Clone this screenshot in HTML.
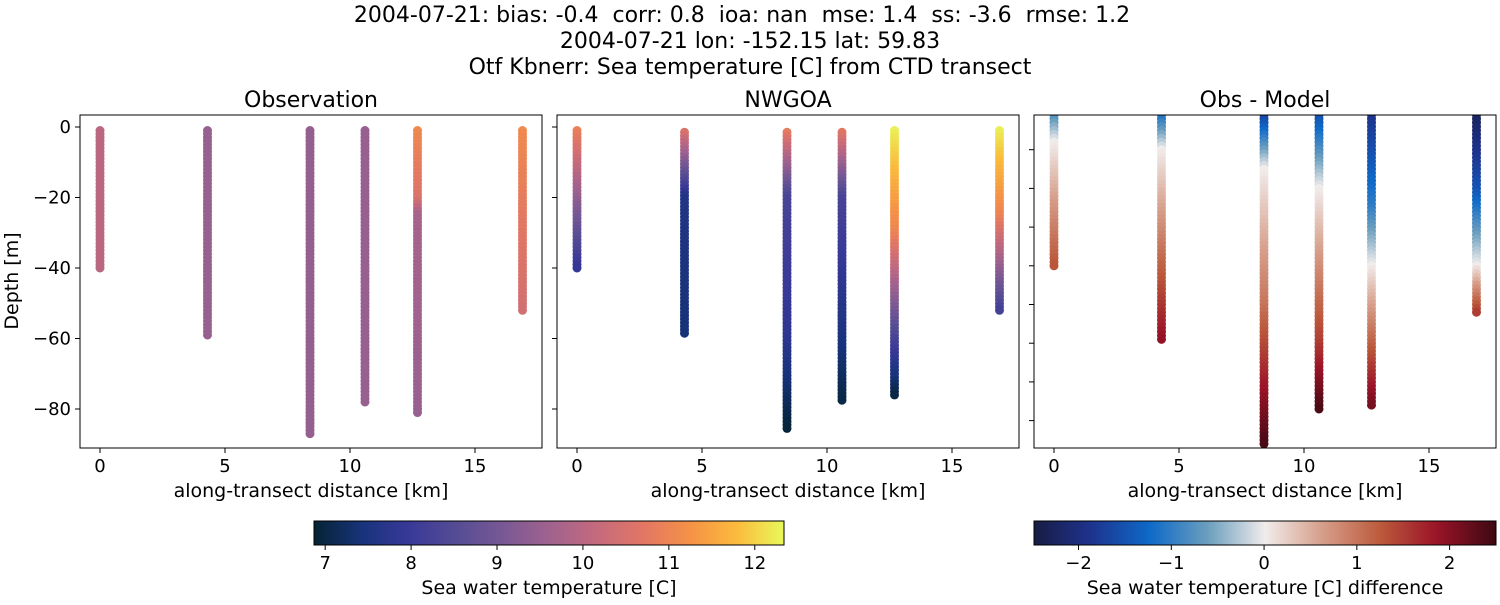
<!DOCTYPE html>
<html><head><meta charset="utf-8"><style>
body{margin:0;background:#fff;font-family:"Liberation Sans","DejaVu Sans",sans-serif}
svg text{font-family:"DejaVu Sans","Liberation Sans",sans-serif;fill:#000;white-space:pre}
</style></head><body>
<svg id="s" width="1500" height="600" xmlns="http://www.w3.org/2000/svg">
<defs>
<linearGradient id="gth" x1="0" x2="1" y1="0" y2="0"></linearGradient>
<linearGradient id="gbal" x1="0" x2="1" y1="0" y2="0"></linearGradient>
</defs>
<g font-size="22" text-anchor="middle">
<text x="742" y="22" xml:space="preserve">2004-07-21: bias: -0.4  corr: 0.8  ioa: nan  mse: 1.4  ss: -3.6  rmse: 1.2</text>
<text x="750" y="48">2004-07-21 lon: -152.15 lat: 59.83</text>
<text x="750" y="74">Otf Kbnerr: Sea temperature [C] from CTD transect</text>
</g>
<g id="plots"></g>
</svg>
<script>
const stationKm=[0,4.3,8.4,10.6,12.7,16.9];
const obsDepth=[40,59,87,78,81,52];
const obsDepthKeys=[[0,40],[0,59],[0,87],[0,78],[0,20,25,81],[0,52]];
const obsTempKeys=[[10.0,10.0],[9.5,9.5],[9.45,9.45],[9.5,9.5],[11.1,10.6,9.7,9.5],[11.1,10.4]];
const modDepth=[40,59,86,78,76,52];
const modDepthKeys=[[0,40],[0,20,59],[0,20,60,86],[0,20,60,78],[0,30,60,76],[0,25,52]];
const modTempKeys=[[11.0,7.9],[10.8,7.6,7.4],[11.0,8.3,7.8,6.9],[10.9,8.3,7.5,7.0],[12.3,11.0,8.3,7.0],[12.3,11.0,8.2]];
const diffDepth=[40,59,86,77,76,52];
const diffDepthKeys=[[-2,8,40],[-2,10,59],[-2,15,50,86],[-2,20,60,77],[-2,25,40,76],[-2,20,40,52]];
const diffKeys=[[-1.2,0,1.3],[-1.6,0,1.9],[-2.1,0,1.0,2.4],[-1.8,0,1.5,2.4],[-2.0,-1.0,0,2.1],[-2.4,-1.5,0,1.5]];
const xTicks=[0,5,10,15];
const yTicks=[0,-20,-40,-60,-80];
const cb1Ticks=[7,8,9,10,11,12];
const cb2Ticks=[-2,-1,0,1,2];

const TH=[[0,[4,35,51]],[0.1,[23,51,122]],[0.2,[56,56,152]],[0.3,[84,76,148]],[0.4,[120,88,148]],[0.5,[160,98,142]],[0.6,[196,106,125]],[0.7,[226,118,100]],[0.8,[245,146,70]],[0.9,[251,187,60]],[1,[232,250,91]]];
const BAL=[[0,[24,28,67]],[0.12,[30,50,140]],[0.25,[14,105,200]],[0.38,[110,160,190]],[0.5,[241,236,236]],[0.62,[215,160,140]],[0.75,[188,90,60]],[0.87,[155,20,40]],[1,[60,9,18]]];
function cmap(m,t){t=Math.max(0,Math.min(1,t));for(let i=1;i<m.length;i++){if(t<=m[i][0]){const a=m[i-1],b=m[i],f=(t-a[0])/(b[0]-a[0]);return 'rgb('+a[1].map((v,k)=>Math.round(v+(b[1][k]-v)*f)).join(',')+')';}}return 'rgb('+m[m.length-1][1].join(',')+')';}
const NS='http://www.w3.org/2000/svg';
const root=document.getElementById('plots');
function el(t,a,p){const e=document.createElementNS(NS,t);for(const k in a)e.setAttribute(k,a[k]);(p||root).appendChild(e);return e;}
function txt(x,y,s,size,anchor,p){const e=el('text',{x:x,y:y,'font-size':size,'text-anchor':anchor},p);e.textContent=s;return e;}
function interp(ks,vs,d){if(d<=ks[0])return vs[0];for(let i=1;i<ks.length;i++){if(d<=ks[i]){const f=(d-ks[i-1])/(ks[i]-ks[i-1]);return vs[i-1]+(vs[i]-vs[i-1])*f;}}return vs[vs.length-1];}
for(const [id,m] of [['gth',TH],['gbal',BAL]]){const g=document.getElementById(id);for(let i=0;i<=40;i++){const st=document.createElementNS(NS,'stop');st.setAttribute('offset',i/40);st.setAttribute('stop-color',cmap(m,i/40));g.appendChild(st);}}

const panels=[
 {x0:80,title:'Observation',name:'observation',depth:obsDepth,dk:obsDepthKeys,vk:obsTempKeys,cm:TH,vmin:6.87,vmax:12.34,y0:127,ppm:3.525,ylab:true},
 {x0:557,title:'NWGOA',name:'nwgoa',depth:modDepth,dk:modDepthKeys,vk:modTempKeys,cm:TH,vmin:6.87,vmax:12.34,y0:127,ppm:3.525,ylab:false},
 {x0:1034,title:'Obs - Model',name:'obs-minus-model',depth:diffDepth,dk:diffDepthKeys,vk:diffKeys,cm:BAL,vmin:-2.48,vmax:2.5,y0:111,ppm:3.87,ylab:false,diff:true}];
const W=462,TOP=115,BOT=448;
panels.forEach(P=>{
 const g=el('g',{});
 
 
 const xs=v=>P.x0+20+v*25, ys=d=>P.y0+d*P.ppm;
 const cp=el('clipPath',{id:'c'+P.name},g);el('rect',{x:P.x0,y:TOP,width:W,height:BOT-TOP},cp);
 const dots=el('g',{'clip-path':'url(#c'+P.name+')'},g);
 stationKm.forEach((km,si)=>{
  const start=P.diff?-3:(P.name==='nwgoa'&&(si==1||si==2||si==3)?1.5:1);
  for(let d=start;d<=P.depth[si];d+=1){
   const v=interp(P.dk[si],P.vk[si],d);
   const c=el('circle',{cx:xs(km),cy:ys(d),r:4.5,fill:cmap(P.cm,(v-P.vmin)/(P.vmax-P.vmin))},dots);
   
   
  }
 });
 el('rect',{x:P.x0,y:TOP,width:W,height:BOT-TOP,fill:'none',stroke:'#000','stroke-width':1},g);
 xTicks.forEach(t=>{el('line',{x1:xs(t),x2:xs(t),y1:BOT,y2:BOT+5,stroke:'#000'},g);txt(xs(t),BOT+24,String(t),18,'middle',g);});
 if(P.diff){for(let d=10;d<=80;d+=10){el('line',{x1:P.x0-5,x2:P.x0,y1:ys(d),y2:ys(d),stroke:'#000'},g);}}
 else yTicks.forEach(t=>{el('line',{x1:P.x0-5,x2:P.x0,y1:ys(-t),y2:ys(-t),stroke:'#000'},g);if(P.ylab)txt(P.x0-9,ys(-t)+6,t===0?'0':'\u2212'+(-t),18,'end',g);});
 const tt=txt(P.x0+W/2,107,P.title,22,'middle',g);
 
 
 const xl=txt(P.x0+W/2,497,'along-transect distance [km]',19,'middle',g);
 
 
});
const yl=txt(0,0,'Depth [m]',19,'middle');
yl.setAttribute('transform','translate(18,281) rotate(-90)');



function cbar(x,w,grad,vmin,vmax,ticks,label,name){
 const g=el('g',{});
 
 
 el('rect',{x:x,y:521,width:w,height:24,fill:'url(#'+grad+')',stroke:'#000'},g);
 ticks.forEach(t=>{const px=x+(t-vmin)/(vmax-vmin)*w;el('line',{x1:px,x2:px,y1:545,y2:550,stroke:'#000'},g);txt(px,569,t<0?'\u2212'+(-t):String(t),18,'middle',g);});
 txt(x+w/2,594,label,19,'middle',g);
}
cbar(314,470,'gth',6.87,12.34,cb1Ticks,'Sea water temperature [C]','temperature-colorbar');
cbar(1034,462,'gbal',-2.48,2.5,cb2Ticks,'Sea water temperature [C] difference','difference-colorbar');
</script>
</body></html>
